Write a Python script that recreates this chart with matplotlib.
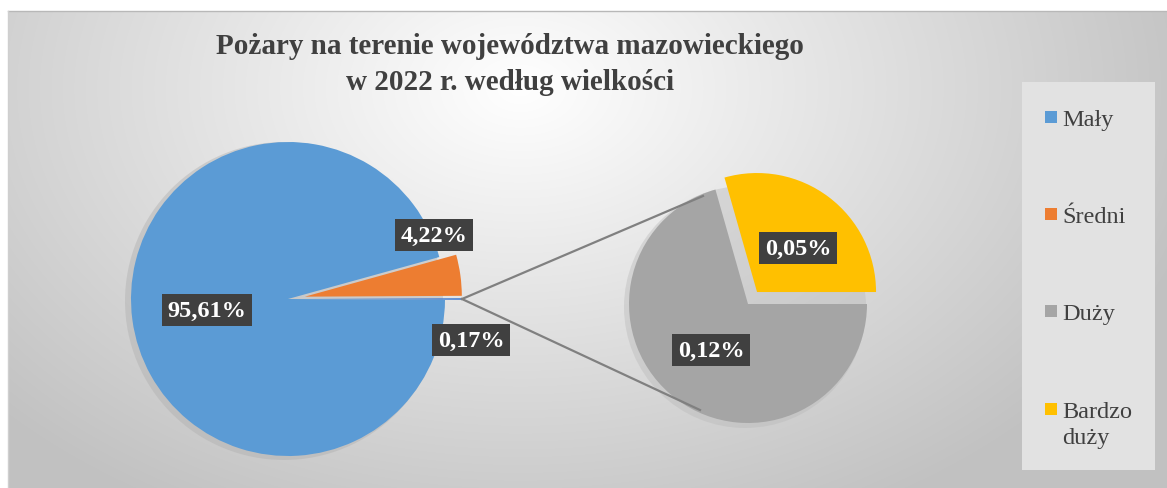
import numpy as np
import matplotlib.pyplot as plt
from matplotlib.patches import Rectangle, Circle

# data
main_labels = ['Mały', 'Średni']
main_values = [95.61, 4.22]
other_value = 0.17
sub_labels = ['Duży', 'Bardzo duży']
sub_values = [0.12, 0.05]
colors = {'Mały': '#5b9bd5', 'Średni': '#ed7d31', 'Duży': '#a5a5a5', 'Bardzo duży': '#ffc000'}
legend_labels = ['Mały', 'Średni', 'Duży', 'Bardzo\nduży']

W, H = 1167, 489
fig = plt.figure(figsize=(W / 100, H / 100), dpi=100)
ax = fig.add_axes([0, 0, 1, 1])

# background gradient
xx, yy = np.meshgrid(np.arange(8, W), np.arange(0, H - 12))
d = np.sqrt(((xx - 520) / 700) ** 2 + ((yy - (H - 90)) / 480) ** 2)
g = 1.0 - 0.24 * np.clip(d, 0, 1)
bg = np.dstack([g, g, g])
ax.imshow(bg, extent=[8, W, 0, H - 12], origin='lower', zorder=0)
ax.plot([8, W], [H - 12, H - 12], color='#b8b8b8', lw=1, zorder=1)
ax.plot([8, 8], [0, H - 12], color='#cfcfcf', lw=1, zorder=1)

# left pie (explode in data units = pixels)
c1 = (288, 189)
r1 = 157
ax.add_patch(Circle((c1[0] - 4, c1[1] - 2), r1 + 2, color='#b0b0b0', alpha=0.45, zorder=1, lw=0))
wl = [other_value, main_values[1], main_values[0]]
ax.pie(wl, colors=['#4a7fd0', colors['Średni'], colors['Mały']], startangle=-other_value / 100 * 180,
       center=c1, radius=r1, explode=[17, 17, 0], frame=True,
       wedgeprops=dict(linewidth=0, zorder=2))

# right pie
c2 = (748, 184)
r2 = 119
ax.add_patch(Circle((c2[0] - 3, c2[1] - 3), r2 + 2, color='#b8b8b8', alpha=0.4, zorder=1, lw=0))
ax.pie([sub_values[1], sub_values[0]], colors=[colors['Bardzo duży'], colors['Duży']], startangle=0,
       center=c2, radius=r2, explode=[15, 0], frame=True,
       wedgeprops=dict(linewidth=0, zorder=2))
ax.set_xlim(0, W)
ax.set_ylim(0, H)
ax.set_aspect('equal')
ax.axis('off')

# connector lines
ax.plot([462, 703], [189, 292], color='#808080', lw=1.6, zorder=3)
ax.plot([462, 700], [189, 78], color='#808080', lw=1.6, zorder=3)

# data labels
lab_pos = [(207, 178, '95,61%'), (434, 253, '4,22%'), (471, 148, '0,17%'),
           (711, 138, '0,12%'), (798, 240, '0,05%')]
for x, y, t in lab_pos:
    ax.text(x, y, t, ha='center', va='center', color='white', fontsize=17.5, fontweight='bold',
            family='Liberation Serif', zorder=5,
            bbox=dict(boxstyle='square,pad=0.22', fc='#404040', ec='none'))

# title
ax.text(510, H - 47, 'Pożary na terenie województwa mazowieckiego', ha='center', va='center',
        fontsize=21, fontweight='bold', family='Liberation Serif', color='#404040', zorder=5)
ax.text(510, H - 83, 'w 2022 r. według wielkości', ha='center', va='center',
        fontsize=21, fontweight='bold', family='Liberation Serif', color='#404040', zorder=5)

# legend
ax.add_patch(Rectangle((1022, H - 471), 133, 388, fc='#e2e2e2', ec='none', zorder=3))
leg_y = [H - 118, H - 215, H - 312, H - 410]
for lab, key, y in zip(legend_labels, list(colors.keys()), leg_y):
    ax.add_patch(Rectangle((1045, y - 6), 12, 12, fc=colors[key], ec='none', zorder=4))
    ax.text(1062, y + 8, lab, ha='left', va='top', fontsize=17.5, family='Liberation Serif',
            color='#404040', zorder=4, linespacing=1.3)

fig.savefig('out.png', dpi=100)
